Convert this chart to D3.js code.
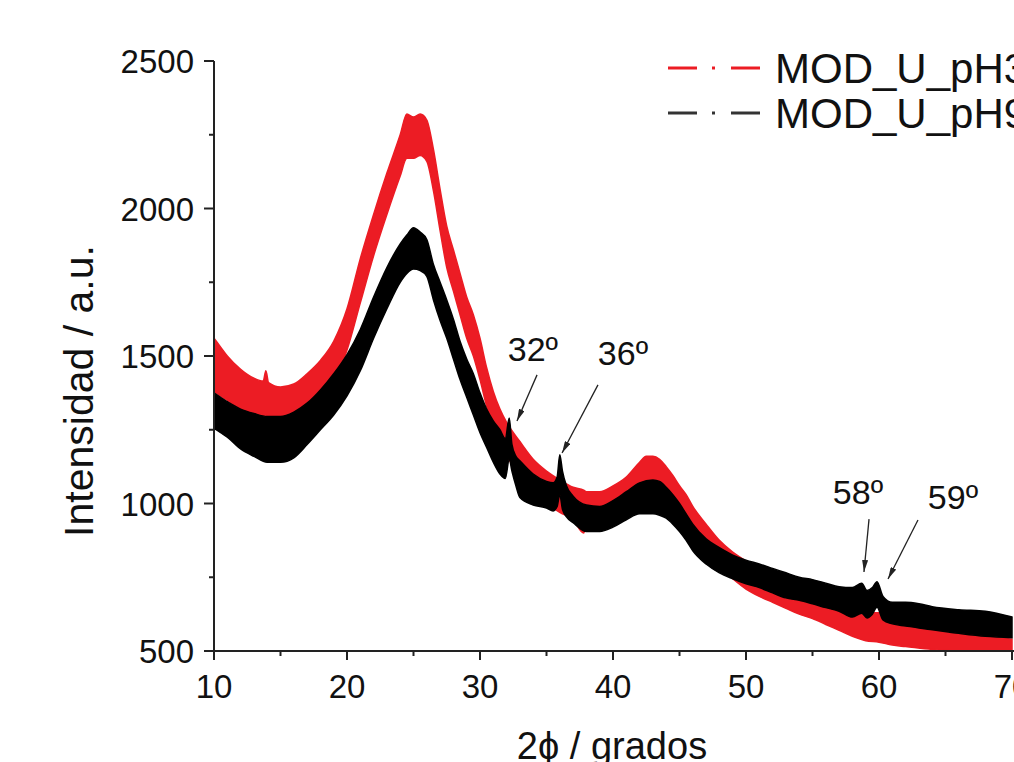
<!DOCTYPE html>
<html><head><meta charset="utf-8">
<script src="https://cdn.jsdelivr.net/npm/d3@7"></script>
<style>html,body{margin:0;padding:0;background:#fff;overflow:hidden}svg{display:block}text{font-family:"Liberation Sans",Arial,sans-serif;fill:#111}</style>
</head><body><svg id="c" width="1014" height="762"></svg>
<script>
// ---- data ----
const seriesNames = ["MOD_U_pH3", "MOD_U_pH9"];
const seriesColors = ["#ec1c24", "#000000"];

// MOD_U_pH3 : noisy band, lower and upper envelope
const xRed  = [10,10.5,11,12,13,13.7,13.9,14.1,15,16,17,18,19,20,21,22,23,24,24.5,25,25.5,26,26.5,27,27.5,28,28.5,29,29.5,30,30.5,31,31.5,32,33,34,35,36,37,37.8,38,39,40,41,42,42.5,43,43.5,44,44.5,45,45.5,46,47,48,49,50,51,52,53,54,55,56,57,58,59,60,61,62,64,66,68,70];
const hiRed = [1560,1530,1500,1455,1425,1415,1450,1410,1395,1405,1440,1485,1550,1660,1830,1980,2120,2250,2320,2310,2320,2300,2200,2065,1940,1860,1780,1700,1640,1560,1460,1380,1320,1275,1210,1150,1110,1080,1055,1045,1040,1040,1060,1090,1140,1160,1160,1150,1125,1095,1060,1030,990,930,875,835,805,780,760,740,720,705,685,665,645,630,630,605,595,575,560,550,540];
const loRed = [1380,1365,1350,1320,1305,1295,1300,1290,1285,1290,1315,1345,1410,1520,1680,1840,1980,2110,2170,2170,2180,2160,2060,1925,1800,1720,1640,1560,1500,1420,1330,1260,1200,1160,1100,1040,1000,970,945,900,930,930,950,980,1020,1040,1040,1030,1005,980,950,920,890,835,785,745,710,685,665,645,625,610,590,570,550,535,530,520,515,505,500,500,495];

// MOD_U_pH9
const xBlack  = [10,10.5,11,12,13,14,15,16,17,18,19,20,21,22,23,24,24.5,25,25.5,26,26.5,27,27.5,28,28.5,29,29.5,30,30.5,31,31.5,31.9,32.2,32.4,32.7,33,34,35,35.5,35.8,36,36.2,36.5,37,38,39,40,41,42,43,43.5,44,44.5,45,45.5,46,47,48,49,50,51,52,53,54,55,56,57,58,58.7,59.1,59.5,59.85,60.3,61,62,63,64,66,68,70];
const hiBlack = [1375,1360,1345,1320,1305,1295,1295,1310,1340,1385,1440,1505,1590,1700,1800,1880,1910,1935,1920,1895,1810,1750,1690,1625,1550,1490,1440,1375,1320,1280,1250,1220,1290,1200,1160,1145,1100,1075,1070,1090,1165,1110,1060,1025,995,990,1010,1040,1070,1080,1075,1055,1030,1000,965,930,880,850,825,808,795,780,765,750,742,730,718,715,730,705,715,735,685,665,665,660,650,640,635,615];
const loBlack = [1255,1240,1225,1185,1160,1140,1140,1155,1200,1250,1300,1365,1450,1560,1660,1750,1780,1795,1790,1770,1690,1620,1560,1490,1420,1360,1300,1240,1190,1140,1100,1085,1150,1110,1060,1020,995,985,975,990,1030,980,955,935,905,905,920,945,965,965,960,950,930,905,875,840,795,765,745,728,715,697,680,672,660,647,635,615,628,612,625,648,605,592,585,578,572,560,550,545];

// axis ticks
const xTicks = [10,20,30,40,50,60,70];
const xMinor = [15,25,35,45,55,65];
const yTicks = [500,1000,1500,2000,2500];
const yMinor = [750,1250,1750,2250];
const xTitle = "2ϕ / grados";
const yTitle = "Intensidad / a.u.";

// annotations: label, text centre, arrow tail, arrow head (data units)
const annLabels = ["32º","36º","58º","59º"];
const annText   = [[33.98,1524],[40.75,1510],[58.42,1039],[65.56,1022]];
const annFrom   = [[34.29,1436],[38.87,1402],[59.25,947],[62.93,944]];
const annTo     = [[32.78,1280],[36.17,1171],[58.87,768],[60.68,744]];

// ---- drawing ----
const svg = d3.select("#c");
const x = d3.scaleLinear().domain([10,70]).range([214,1012]);
const y = d3.scaleLinear().domain([500,2500]).range([651,61]);

svg.append("defs").append("clipPath").attr("id","clip")
  .append("rect").attr("x",214).attr("y",0).attr("width",800).attr("height",651);
const marker = svg.select("defs").append("marker").attr("id","arr")
  .attr("viewBox","0 0 12 6").attr("refX",12).attr("refY",3)
  .attr("markerWidth",12).attr("markerHeight",6).attr("markerUnits","userSpaceOnUse").attr("orient","auto");
marker.append("path").attr("d","M0,0L12,3L0,6Z").attr("fill","#222");

const plot = svg.append("g").attr("clip-path","url(#clip)");
const area = d3.area().x(d=>x(d.x)).y0(d=>y(d.lo)).y1(d=>y(d.hi)).curve(d3.curveMonotoneX);
const red = xRed.map((v,i)=>({x:v,lo:loRed[i],hi:hiRed[i]}));
const blk = xBlack.map((v,i)=>({x:v,lo:loBlack[i],hi:hiBlack[i]}));
plot.append("path").datum(red).attr("d",area).attr("fill",seriesColors[0]).attr("stroke",seriesColors[0]).attr("stroke-width",1.5);
plot.append("path").datum(blk).attr("d",area).attr("fill",seriesColors[1]).attr("stroke",seriesColors[1]).attr("stroke-width",1.5);

// axes
const ax = svg.append("g").attr("stroke","#222").attr("stroke-width",2);
ax.append("line").attr("x1",x(10)).attr("x2",1014).attr("y1",y(500)).attr("y2",y(500));
ax.append("line").attr("x1",x(10)).attr("x2",x(10)).attr("y1",y(500)).attr("y2",y(2500));
xTicks.forEach(t=>ax.append("line").attr("x1",x(t)).attr("x2",x(t)).attr("y1",y(500)).attr("y2",y(500)+9));
xMinor.forEach(t=>ax.append("line").attr("x1",x(t)).attr("x2",x(t)).attr("y1",y(500)).attr("y2",y(500)+5));
yTicks.forEach(t=>ax.append("line").attr("x1",x(10)-10).attr("x2",x(10)).attr("y1",y(t)).attr("y2",y(t)));
yMinor.forEach(t=>ax.append("line").attr("x1",x(10)-5).attr("x2",x(10)).attr("y1",y(t)).attr("y2",y(t)));

svg.append("g").selectAll("text").data(xTicks).join("text")
  .attr("x",d=>x(d)).attr("y",y(500)+47).attr("text-anchor","middle").attr("font-size",33).text(d=>d);
svg.append("g").selectAll("text").data(yTicks).join("text")
  .attr("x",x(10)-20).attr("y",d=>y(d)+12).attr("text-anchor","end").attr("font-size",33).text(d=>d);

svg.append("text").attr("x",612).attr("y",759).attr("text-anchor","middle").attr("font-size",38).text(xTitle);
svg.append("text").attr("transform","translate(93,391) rotate(-90)").attr("text-anchor","middle").attr("font-size",41).text(yTitle);

// annotations
annLabels.forEach((l,i)=>{
  svg.append("line").attr("x1",x(annFrom[i][0])).attr("y1",y(annFrom[i][1]))
    .attr("x2",x(annTo[i][0])).attr("y2",y(annTo[i][1]))
    .attr("stroke","#222").attr("stroke-width",1.3).attr("marker-end","url(#arr)");
  svg.append("text").attr("x",x(annText[i][0])).attr("y",y(annText[i][1])).attr("dy","0.36em")
    .attr("text-anchor","middle").attr("font-size",34).text(l);
});

// legend
const lg = svg.append("g");
seriesNames.forEach((n,i)=>{
  const yy = 68 + i*45;
  const g = lg.append("g").attr("stroke",i===0?seriesColors[0]:"#333").attr("stroke-width",3);
  g.append("line").attr("x1",668).attr("x2",697).attr("y1",yy).attr("y2",yy);
  g.append("line").attr("x1",712).attr("x2",715).attr("y1",yy).attr("y2",yy);
  g.append("line").attr("x1",731).attr("x2",760).attr("y1",yy).attr("y2",yy);
  lg.append("text").attr("x",775).attr("y",yy+15).attr("font-size",42).text(n);
});
</script></body></html>
